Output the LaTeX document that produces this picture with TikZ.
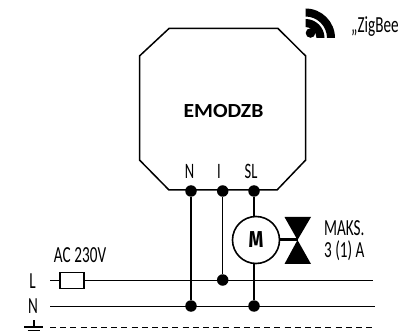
\documentclass[tikz,border=0pt]{standalone}
\usepackage{fontspec}
\setmainfont[FakeStretch=0.66]{Carlito}
\newfontfamily\boldf[FakeStretch=1.08]{Carlito}
\newfontfamily\boldm[FakeStretch=0.82]{Fira Sans}
\begin{document}
\begin{tikzpicture}[x=1pt,y=-1pt,
  wire/.style={line width=1.1pt,black},
  boxline/.style={line width=1.5pt,black,line join=miter},
  junction/.style={circle,fill=black,minimum size=11.5pt,inner sep=0pt},
  lab/.style={font=\fontsize{23}{22}\selectfont,inner sep=0pt,text=black},
  termlab/.style={font=\fontsize{22}{22}\selectfont,inner sep=0pt,text=black}]
\useasboundingbox (0,0) rectangle (399,331);
\clip (0,0) rectangle (399,331);
\draw[boxline] (277,190) -- (305.7,160) -- (305.7,56) -- (278,28.5) -- (169,28.5) -- (139.5,56) -- (139.5,160) -- (169,190) -- cycle;
\node[font=\boldf\bfseries\fontsize{20}{22}\selectfont,inner sep=0pt] (name) at (223.5,111) {EMODZB};
\node[junction] (jn) at (191,191) {};
\node[junction] (ji) at (222.7,191) {};
\node[junction] (js) at (254,191) {};
\node[termlab] (tn) at (189.5,171) {N};
\node[termlab] (ti) at (219,171) {I};
\node[termlab] (ts) at (251,171) {SL};
\node[junction] (ji2) at (222.7,280) {};
\node[junction] (jn2) at (191,306) {};
\node[junction] (js2) at (254,306) {};
\node[draw,line width=1.6pt,circle,minimum size=47pt,inner sep=0pt,font=\boldm\bfseries\fontsize{23}{24}\selectfont] (m) at (256,240) {M};
\coordinate (ls) at (50,280.5);
\coordinate (le) at (373,280.5);
\coordinate (ns) at (50,306.5);
\coordinate (ne) at (375,306.5);
\coordinate (gs) at (50,327.5);
\coordinate (ge) at (375,327.5);
\draw[wire] (ls) -- (le);
\draw[wire] (ns) -- (ne);
\draw[wire,dash pattern=on 6pt off 4.2pt] (gs) -- (ge);
\draw[wire] (jn) -- (jn2);
\draw[wire] (ji) -- (ji2);
\draw[wire] (js) -- (254,216.5);
\draw[wire] (254,263.5) -- (js2);
\node[draw,line width=1.15pt,fill=white,minimum width=24pt,minimum height=15.5pt,inner sep=0pt] (fuse) at (72,280.5) {};
\node[lab] (ac) at (80,255) {AC\,230V};
\node[lab] (ll) at (32.5,281) {L};
\node[lab] (lnn) at (33,306) {N};
\coordinate (v) at (297.5,240);
\draw[line width=3pt] (m.east) -- (v);
\fill (v) -- (284.5,217) -- (311,217) -- cycle;
\fill (v) -- (284.5,264) -- (311,264) -- cycle;
\node[lab,align=left,anchor=west] (mk) at (324,241) {MAKS.\\3 (1) A};
\coordinate (g) at (34,327);
\draw[line width=1.3pt] (34,320) -- (g);
\draw[line width=1.3pt] (24,327) -- (43,327);
\draw[line width=1.3pt] (27.5,330.7) -- (40,330.7);
\fill (310.5,33) circle (4.8);
\fill (305.5,19) arc (-90:0:19) -- (324.5,38) -- (316.5,38) arc (0:-90:11) -- cycle;
\fill (305.5,8.5) arc (-90:0:29.5) -- (335,38) -- (327,38) arc (0:-90:21.5) -- cycle;
\node[lab,anchor=west] (zb) at (351,27) {„ZigBee};
\end{tikzpicture}
\end{document}
